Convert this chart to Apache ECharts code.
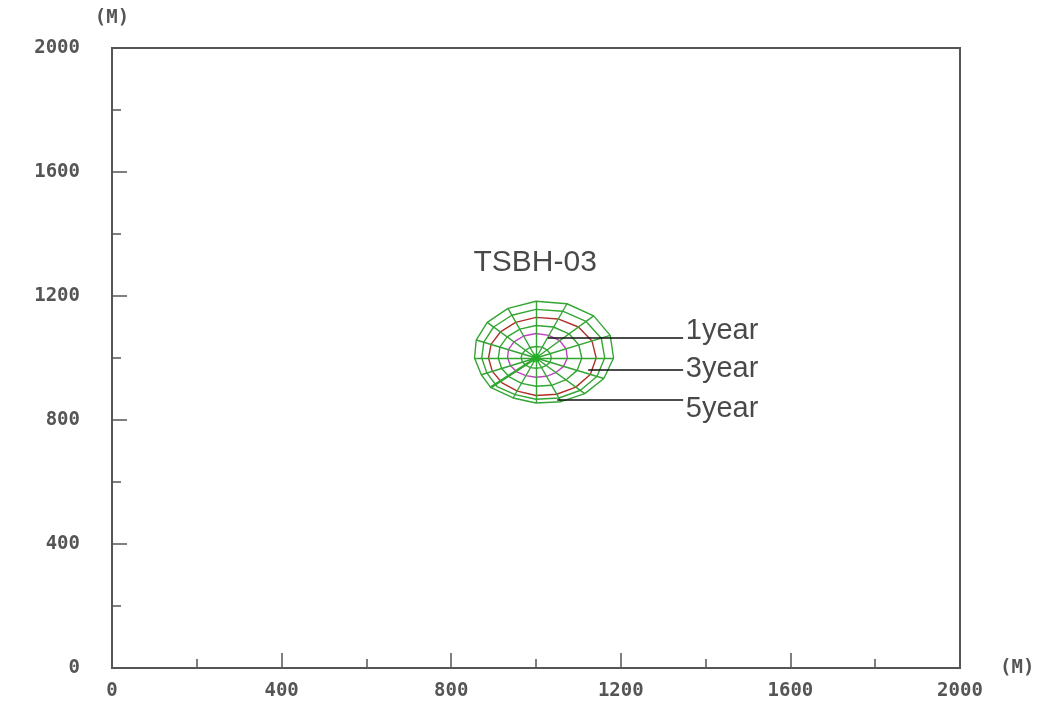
<!DOCTYPE html>
<html>
<head>
<meta charset="utf-8">
<script src="https://cdn.jsdelivr.net/npm/echarts@6/dist/echarts.min.js"></script>
<style>
html,body{margin:0;padding:0;background:#fff;}
#chart{width:1054px;height:706px;}
</style>
</head>
<body>
<div id="chart"></div>
<script>
// ---- data (metres) ----
const axisTicks = [0, 400, 800, 1200, 1600, 2000];
const axisUnit = '(M)';
const wellName = 'TSBH-03';
const well = [1000, 1000];
const wellLabelPos = [998, 1306];

// capture-zone contours, 16 vertices each (E, then counter-clockwise)
const ring05 = [[1036,1000],[1034,1014],[1026,1026],[1014,1035],[1000,1037],[986,1034],[975,1025],[967,1013],[965,1000],[968,987],[976,976],[987,969],[1000,967],[1013,969],[1024,976],[1033,986]];
const ring1 = [[1074,1000],[1071,1029],[1056,1056],[1030,1073],[1000,1079],[971,1071],[948,1052],[935,1027],[933,1000],[940,975],[955,955],[976,943],[1000,938],[1025,941],[1047,953],[1065,973]];
const ring2 = [[1108,1000],[1101,1042],[1078,1078],[1041,1100],[1000,1105],[962,1093],[932,1068],[915,1036],[911,1000],[919,966],[938,938],[966,918],[1000,909],[1037,912],[1071,930],[1097,960]];
const ring3 = [[1142,1000],[1132,1055],[1100,1100],[1052,1126],[1000,1131],[952,1115],[916,1084],[894,1044],[888,1000],[897,957],[920,920],[956,893],[1000,879],[1049,883],[1094,906],[1128,947]];
const ring4 = [[1162,1000],[1154,1064],[1118,1118],[1063,1151],[1000,1157],[943,1138],[900,1100],[877,1051],[872,1000],[884,952],[908,908],[951,882],[1000,867],[1054,871],[1105,896],[1144,941]];
const ring5 = [[1183,1000],[1175,1073],[1136,1136],[1073,1175],[1000,1183],[934,1160],[885,1115],[859,1058],[855,1000],[871,946],[893,905],[946,871],[1000,855],[1059,859],[1115,885],[1160,934]];

// year labels and leader lines
const yearLabels = ['1year', '3year', '5year'];
const yearLabelY = [1087, 963, 835];
const leaderStartX = [1028, 1123, 1050];
const leaderY = [1066, 961, 865];
const leaderEndX = 1347;
const labelX = 1352;

const green = '#33a533';
const rings = [
  {pts: ring05, color: green},
  {pts: ring1, color: '#c040c0'},
  {pts: ring2, color: green},
  {pts: ring3, color: '#b0302a'},
  {pts: ring4, color: green},
  {pts: ring5, color: green}
];

const series = [];
rings.forEach(r => {
  series.push({
    type: 'line', data: r.pts.concat([r.pts[0]]), symbol: 'none', silent: true,
    lineStyle: {color: r.color, width: 1.4}, z: 3, animation: false
  });
});
// radial path lines from the well to the outer contour
series.push({
  type: 'lines', coordinateSystem: 'cartesian2d', silent: true, animation: false, z: 4,
  lineStyle: {color: green, width: 1.4, opacity: 1},
  data: ring5.map(p => ({coords: [well, p]}))
});
// thicker path line toward the lower-left
series.push({
  type: 'lines', coordinateSystem: 'cartesian2d', silent: true, animation: false, z: 4,
  lineStyle: {color: green, width: 2.5, opacity: 1},
  data: [{coords: [well, ring5[10]]}]
});
// leader lines
series.push({
  type: 'lines', coordinateSystem: 'cartesian2d', silent: true, animation: false, z: 5,
  lineStyle: {color: '#111', width: 1.6, opacity: 1},
  data: yearLabels.map((l, i) => ({coords: [[leaderStartX[i], leaderY[i]], [leaderEndX, leaderY[i]]]}))
});
// year labels
series.push({
  type: 'scatter', silent: true, animation: false, z: 6,
  symbolSize: 1, itemStyle: {color: 'rgba(0,0,0,0)'},
  label: {show: true, position: 'right', distance: 0, formatter: p => p.name,
    fontFamily: 'Liberation Sans', fontSize: 29, color: '#1a1a1a'},
  data: yearLabels.map((l, i) => ({name: l, value: [labelX, yearLabelY[i]]}))
});
// well marker + name
series.push({
  type: 'scatter', silent: true, animation: false, z: 7,
  symbolSize: 9, itemStyle: {color: '#22b022'},
  data: [well]
});
series.push({
  type: 'scatter', silent: true, animation: false, z: 6,
  symbolSize: 1, itemStyle: {color: 'rgba(0,0,0,0)'},
  label: {show: true, position: 'inside', formatter: () => wellName,
    fontFamily: 'Liberation Sans', fontSize: 30, color: '#1a1a1a'},
  data: [wellLabelPos]
});

const labelFont = {fontFamily: 'DejaVu Sans Mono', fontWeight: 'bold', fontSize: 19, color: '#555'};
const tickInterval = axisTicks[1] - axisTicks[0];
function axis(isX) {
  return {
    type: 'value', min: axisTicks[0], max: axisTicks[axisTicks.length - 1], interval: tickInterval,
    name: axisUnit, nameLocation: 'end', nameGap: isX ? 40 : 20,
    nameTextStyle: Object.assign({}, labelFont, isX ? {align: 'left', verticalAlign: 'middle'} : {}),
    axisLine: {show: true, lineStyle: {color: '#555', width: 2}},
    axisTick: {show: true, inside: true, length: 15, lineStyle: {color: '#555', width: 1.5}},
    minorTick: {show: true, splitNumber: 2, length: 9, lineStyle: {color: '#555', width: 1.5}},
    splitLine: {show: false},
    axisLabel: Object.assign({margin: isX ? 14 : 32, formatter: v => String(v)}, labelFont)
  };
}

const chart = echarts.init(document.getElementById('chart'), null, {renderer: 'canvas'});
chart.setOption({
  backgroundColor: '#fff',
  animation: false,
  grid: {left: 112, right: 94, top: 48, bottom: 38, show: true, borderColor: '#555', borderWidth: 2, backgroundColor: 'transparent'},
  xAxis: axis(true),
  yAxis: axis(false),
  series: series
});
</script>
</body>
</html>
